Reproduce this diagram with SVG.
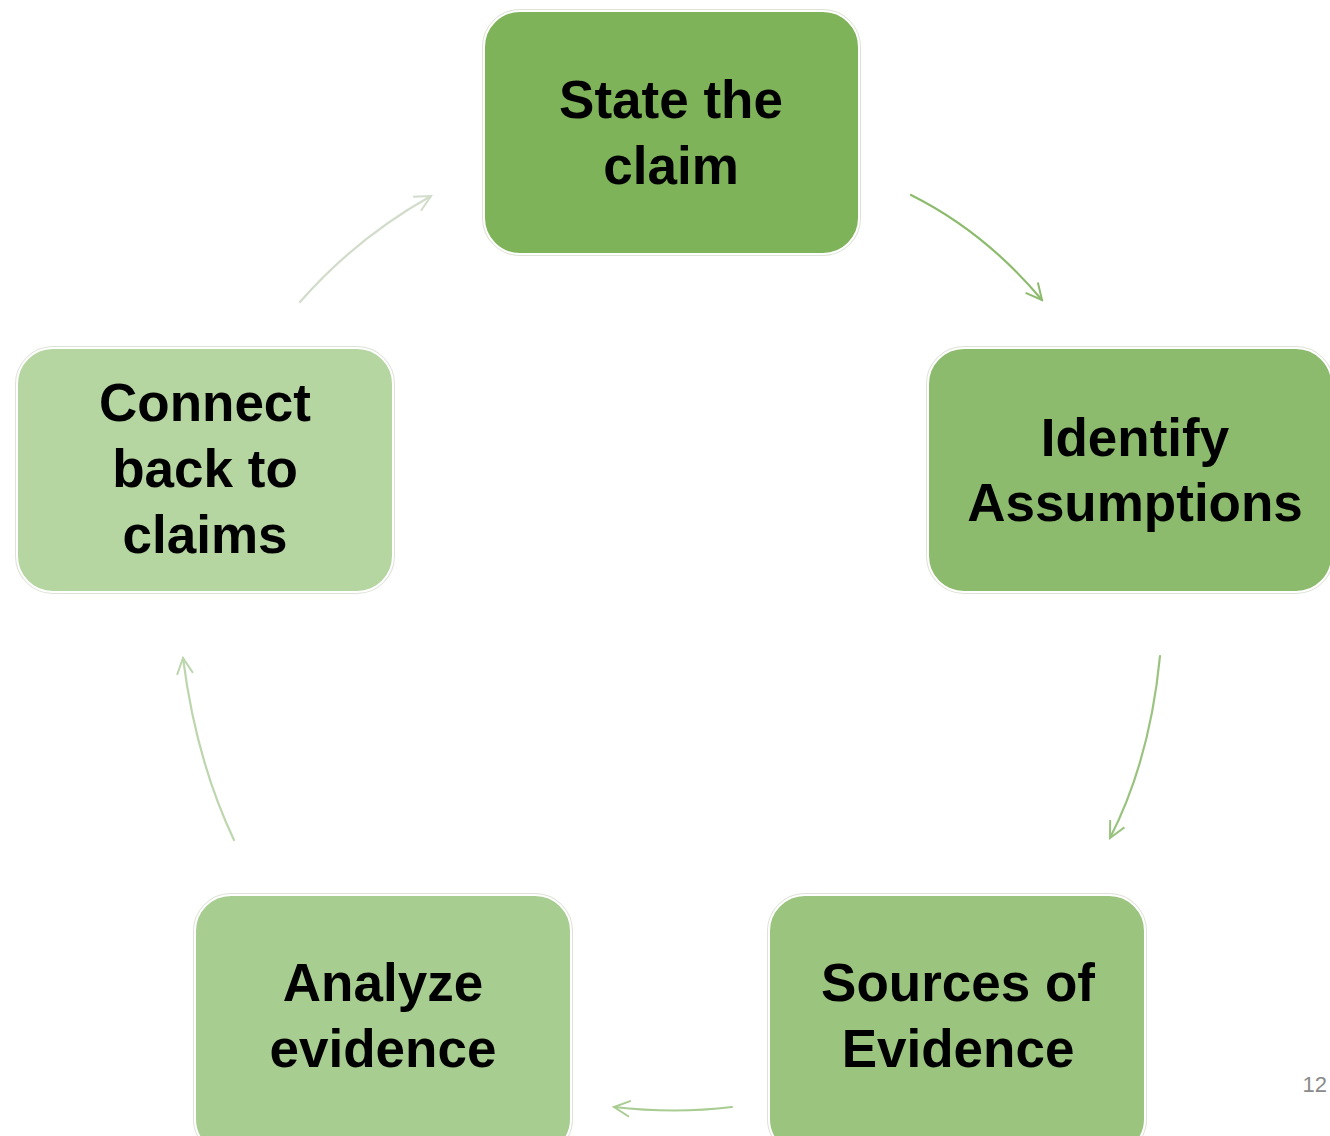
<svg xmlns="http://www.w3.org/2000/svg" width="1330" height="1136" viewBox="0 0 1330 1136">
<style>
.box{stroke:#ffffff;stroke-width:2}
.halo{fill:none;stroke:#dde3d7;stroke-width:4}
.lbl{font-family:"Liberation Sans",Arial,sans-serif;font-weight:bold;font-size:53px;fill:#000;text-anchor:middle}
.arr{fill:none;stroke-width:2.2;stroke-linecap:round}
.pg{font-family:"Liberation Sans",Arial,sans-serif;font-size:22px;fill:#8a8a8a;text-anchor:end}
</style>
<defs>
<marker id="h1" viewBox="0 0 20 20" refX="18" refY="10" markerWidth="20" markerHeight="20" markerUnits="userSpaceOnUse" orient="auto"><path d="M2 2 L18 10 L2 18" fill="none" stroke="#8dbb6e" stroke-width="2"/></marker>
<marker id="h2" viewBox="0 0 20 20" refX="18" refY="10" markerWidth="20" markerHeight="20" markerUnits="userSpaceOnUse" orient="auto"><path d="M2 2 L18 10 L2 18" fill="none" stroke="#99c37f" stroke-width="2"/></marker>
<marker id="h3" viewBox="0 0 20 20" refX="18" refY="10" markerWidth="20" markerHeight="20" markerUnits="userSpaceOnUse" orient="auto"><path d="M2 2 L18 10 L2 18" fill="none" stroke="#a9cc92" stroke-width="2"/></marker>
<marker id="h4" viewBox="0 0 20 20" refX="18" refY="10" markerWidth="20" markerHeight="20" markerUnits="userSpaceOnUse" orient="auto"><path d="M2 2 L18 10 L2 18" fill="none" stroke="#bdd6ae" stroke-width="2"/></marker>
<marker id="h5" viewBox="0 0 20 20" refX="18" refY="10" markerWidth="20" markerHeight="20" markerUnits="userSpaceOnUse" orient="auto"><path d="M2 2 L18 10 L2 18" fill="none" stroke="#d2dccb" stroke-width="2"/></marker>
</defs>
<rect width="1330" height="1136" fill="#ffffff"/>
<g id="connectors">
<path class="arr" stroke="#8dbb6e" marker-end="url(#h1)" d="M911 195 Q985 232 1042 300"/>
<path class="arr" stroke="#99c37f" marker-end="url(#h2)" d="M1160 656 Q1150 760 1110 838"/>
<path class="arr" stroke="#a9cc92" marker-end="url(#h3)" d="M732 1107 Q675 1114 614 1107"/>
<path class="arr" stroke="#bdd6ae" marker-end="url(#h4)" d="M234 840 Q196 760 183 658"/>
<path class="arr" stroke="#d2dccb" marker-end="url(#h5)" d="M300 302 Q356 238 431 196"/>
</g>
<g id="node-state">
<rect class="halo" x="484" y="11" width="375" height="243" rx="36"/>
<rect class="box" x="484" y="11" width="375" height="243" rx="36" fill="#7fb35a"/>
<text class="lbl" x="671" y="118">State the</text>
<text class="lbl" x="671" y="184">claim</text>
</g>
<g id="node-identify">
<rect class="halo" x="928" y="348" width="404" height="244" rx="36"/>
<rect class="box" x="928" y="348" width="404" height="244" rx="36" fill="#8dbb6e"/>
<text class="lbl" x="1135" y="456">Identify</text>
<text class="lbl" x="1135" y="521">Assumptions</text>
</g>
<g id="node-sources">
<rect class="halo" x="769" y="895" width="376" height="260" rx="36"/>
<rect class="box" x="769" y="895" width="376" height="260" rx="36" fill="#9bc47f"/>
<text class="lbl" x="958" y="1001">Sources of</text>
<text class="lbl" x="958" y="1067">Evidence</text>
</g>
<g id="node-analyze">
<rect class="halo" x="195" y="895" width="376" height="260" rx="36"/>
<rect class="box" x="195" y="895" width="376" height="260" rx="36" fill="#a8cd90"/>
<text class="lbl" x="383" y="1001">Analyze</text>
<text class="lbl" x="383" y="1067">evidence</text>
</g>
<g id="node-connect">
<rect class="halo" x="17" y="348" width="376" height="244" rx="36"/>
<rect class="box" x="17" y="348" width="376" height="244" rx="36" fill="#b5d5a1"/>
<text class="lbl" x="205" y="421">Connect</text>
<text class="lbl" x="205" y="487">back to</text>
<text class="lbl" x="205" y="553">claims</text>
</g>
<text class="pg" x="1327" y="1092">12</text>
</svg>
